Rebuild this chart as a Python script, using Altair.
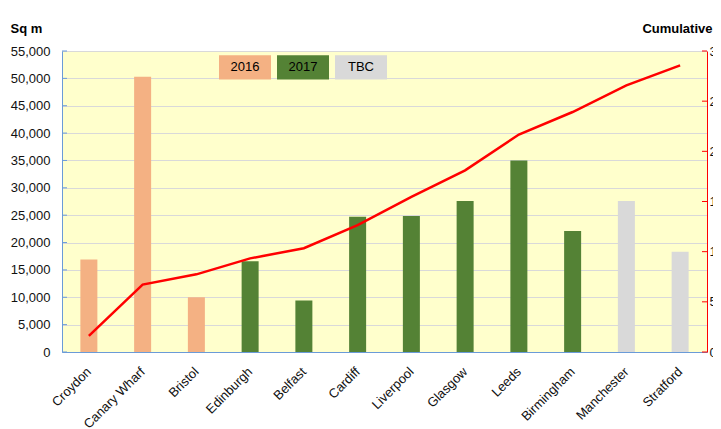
import altair as alt
import pandas as pd

# ---- data ----
sites = ["Croydon", "Canary Wharf", "Bristol", "Edinburgh", "Belfast", "Cardiff",
         "Liverpool", "Glasgow", "Leeds", "Birmingham", "Manchester", "Stratford"]
sq_m = [16900, 50300, 10000, 16600, 9400, 24700, 24850, 27600, 35000, 22100, 27600, 18300]
status = ["2016", "2016", "2016", "2017", "2017", "2017", "2017", "2017", "2017", "2017", "TBC", "TBC"]
cumulative = [16000, 67200, 77400, 93300, 103400, 126500, 154500, 181000, 216700, 239200, 265800, 285700]

status_domain = ["2016", "2017", "TBC"]
status_colors = ["#F4B183", "#548235", "#D9D9D9"]

left_ticks = list(range(0, 55001, 5000))
right_ticks = list(range(0, 300001, 50000))

FONT = "Liberation Sans"
BLUE = "#6A9BD8"
RED = "#FF0000"

df = pd.DataFrame({"site": sites, "sqm": sq_m, "status": status, "cum": cumulative})
df_lt = pd.DataFrame({"v": left_ticks})
df_rt = pd.DataFrame({"v": right_ticks})

x_enc = alt.X("site:N", sort=sites, title=None,
              scale=alt.Scale(paddingInner=0, paddingOuter=0),
              axis=alt.Axis(labelAngle=-45, labelFontSize=13, labelFont=FONT, labelColor="#111",
                            domainColor=BLUE, ticks=False, grid=False, labelPadding=13,
                            labelOffset={"expr": "-4"}))

bars = alt.Chart(df).mark_bar(size=17).encode(
    x=x_enc,
    y=alt.Y("sqm:Q", scale=alt.Scale(domain=[0, 55000], nice=False),
            axis=alt.Axis(values=left_ticks, format=",.0f", title="Sq m", titleAngle=0,
                          titleAlign="left", titleBaseline="alphabetic", titleX=-52, titleY=-19,
                          titleFontSize=13, titleFont=FONT, titleFontWeight="bold", titleColor="#000",
                          labelFontSize=13, labelFont=FONT, labelColor="#111", tickSize=0,
                          labelPadding=12, domainColor=BLUE, grid=True, gridColor="#D9D9D9")),
    color=alt.Color("status:N", scale=alt.Scale(domain=status_domain, range=status_colors),
                    legend=alt.Legend(title=None, orient="none", legendX=157, legendY=-10,
                                      direction="horizontal",
                                      symbolType="M-1,-0.47H1V0.47H-1Z", symbolSize=2704,
                                      symbolStrokeWidth=0, symbolOpacity=1,
                                      labelOffset={"expr": "-26"}, labelAlign="center",
                                      labelBaseline="middle",
                                      labelFontSize=13, labelFont=FONT, labelColor="#000",
                                      columnPadding=6, padding=0))
)

left_tick_marks = alt.Chart(df_lt).mark_rule(color=BLUE, strokeWidth=1).encode(
    y=alt.Y("v:Q", scale=alt.Scale(domain=[0, 55000], nice=False), axis=None),
    x=alt.value(0), x2=alt.value(5)
)

line = alt.Chart(df).mark_line(color=RED, strokeWidth=2.5).encode(
    x=alt.X("site:N", sort=sites),
    y=alt.Y("cum:Q", scale=alt.Scale(domain=[0, 300000], nice=False),
            axis=alt.Axis(orient="right", values=right_ticks, format=",.0f", title="Cumulative",
                          titleAngle=0, titleAlign="right", titleBaseline="alphabetic",
                          titleX=5, titleY=-19, titleFontSize=13, titleFont=FONT,
                          titleFontWeight="bold", titleColor="#000",
                          labelFontSize=13, labelFont=FONT, labelColor="#111", tickSize=0,
                          labelPadding=2, domainColor=RED, grid=False))
)

right_tick_marks = alt.Chart(df_rt).mark_rule(color=RED, strokeWidth=1).encode(
    y=alt.Y("v:Q", scale=alt.Scale(domain=[0, 300000], nice=False), axis=None),
    x=alt.value(640), x2=alt.value(645)
)

chart = alt.layer(bars, left_tick_marks, line, right_tick_marks).resolve_scale(
    y="independent"
).properties(
    width=645, height=301,
    autosize=alt.AutoSizeParams(type="none"),
    padding={"left": 54, "top": 43, "right": 6, "bottom": 77},
).configure_view(
    fill="#FFFFCC", stroke=None
).configure_axis(
    domainWidth=1
)

chart.save("out.html", embed_options={"renderer": "svg", "actions": False})
